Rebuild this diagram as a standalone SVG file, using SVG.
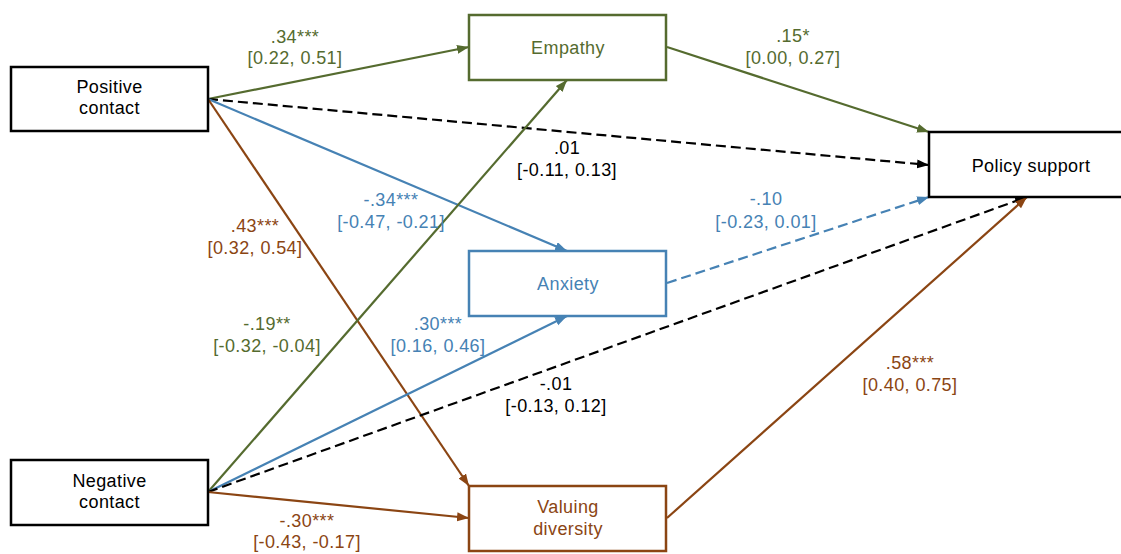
<svg xmlns="http://www.w3.org/2000/svg" width="1121" height="554" viewBox="0 0 1121 554">
<style>
text{font-family:"Liberation Sans",Arial,sans-serif;font-size:18px;letter-spacing:0.4px;text-anchor:middle}
.box{fill:#fff;stroke-width:2.5}
.k{stroke:#000}.g{stroke:#556B2F}.b{stroke:#4682B4}.r{stroke:#8B4513}
.tk{fill:#000}.tg{fill:#556B2F}.tb{fill:#4682B4}.tr{fill:#8B4513}
.e{fill:none;stroke-width:2.2}
.d{stroke-dasharray:10 5}
</style>
<defs>
<marker id="ak" markerUnits="userSpaceOnUse" markerWidth="13" markerHeight="10" refX="12" refY="4.5" orient="auto"><path d="M0,0 L12,4.5 L0,9 z" fill="#000"/></marker>
<marker id="ag" markerUnits="userSpaceOnUse" markerWidth="13" markerHeight="10" refX="12" refY="4.5" orient="auto"><path d="M0,0 L12,4.5 L0,9 z" fill="#556B2F"/></marker>
<marker id="ab" markerUnits="userSpaceOnUse" markerWidth="13" markerHeight="10" refX="12" refY="4.5" orient="auto"><path d="M0,0 L12,4.5 L0,9 z" fill="#4682B4"/></marker>
<marker id="ar" markerUnits="userSpaceOnUse" markerWidth="13" markerHeight="10" refX="12" refY="4.5" orient="auto"><path d="M0,0 L12,4.5 L0,9 z" fill="#8B4513"/></marker>
</defs>
<rect width="1121" height="554" fill="#fff"/>
<g id="connectors">
<line class="e g" x1="208" y1="99" x2="469" y2="47" marker-end="url(#ag)"/>
<line class="e k d" x1="208" y1="99" x2="929" y2="165" marker-end="url(#ak)"/>
<line class="e b" x1="208" y1="99" x2="567" y2="251" marker-end="url(#ab)"/>
<line class="e r" x1="208" y1="99" x2="469" y2="486" marker-end="url(#ar)"/>
<line class="e g" x1="208" y1="492" x2="567" y2="80" marker-end="url(#ag)"/>
<line class="e b" x1="208" y1="492" x2="567" y2="316" marker-end="url(#ab)"/>
<line class="e k d" x1="208" y1="492" x2="1027" y2="197" marker-end="url(#ak)"/>
<line class="e r" x1="208" y1="492" x2="469" y2="518" marker-end="url(#ar)"/>
<line class="e g" x1="667" y1="47" x2="929" y2="132" marker-end="url(#ag)"/>
<line class="e b d" x1="667" y1="283" x2="929" y2="197" marker-end="url(#ab)"/>
<line class="e r" x1="667" y1="518" x2="1027" y2="197" marker-end="url(#ar)"/>
<g id="labels">
<text class="tg" x="295" y="43">.34***</text><text class="tg" x="295" y="64">[0.22, 0.51]</text>
<text class="tg" x="793" y="42">.15*</text><text class="tg" x="793" y="64">[0.00, 0.27]</text>
<text class="tk" x="567" y="154">.01</text><text class="tk" x="567" y="176">[-0.11, 0.13]</text>
<text class="tb" x="391" y="206">-.34***</text><text class="tb" x="391" y="228">[-0.47, -0.21]</text>
<text class="tr" x="255" y="232">.43***</text><text class="tr" x="255" y="254">[0.32, 0.54]</text>
<text class="tb" x="766" y="205">-.10</text><text class="tb" x="766" y="228">[-0.23, 0.01]</text>
<text class="tg" x="267" y="330">-.19**</text><text class="tg" x="267" y="352">[-0.32, -0.04]</text>
<text class="tb" x="438" y="330">.30***</text><text class="tb" x="438" y="352">[0.16, 0.46]</text>
<text class="tk" x="556" y="390">-.01</text><text class="tk" x="556" y="412">[-0.13, 0.12]</text>
<text class="tr" x="910" y="369">.58***</text><text class="tr" x="910" y="391">[0.40, 0.75]</text>
<text class="tr" x="307" y="527">-.30***</text><text class="tr" x="307" y="548">[-0.43, -0.17]</text>
</g>
</g>
<g id="positive-contact"><rect class="box k" x="11" y="67" width="197" height="64"/><text class="tk" x="109.5" y="93">Positive</text><text class="tk" x="109.5" y="114">contact</text></g>
<g id="negative-contact"><rect class="box k" x="11" y="460" width="197" height="65"/><text class="tk" x="109.5" y="487">Negative</text><text class="tk" x="109.5" y="508">contact</text></g>
<g id="empathy"><rect class="box g" x="469" y="15" width="197" height="65"/><text class="tg" x="568" y="54">Empathy</text></g>
<g id="anxiety"><rect class="box b" x="469" y="251" width="197" height="65"/><text class="tb" x="568" y="290">Anxiety</text></g>
<g id="valuing-diversity"><rect class="box r" x="469" y="486" width="197" height="65"/><text class="tr" x="568" y="513">Valuing</text><text class="tr" x="568" y="535">diversity</text></g>
<g id="policy-support"><rect class="box k" x="929" y="132" width="200" height="65"/><text class="tk" x="1031" y="172">Policy support</text></g>
</svg>
